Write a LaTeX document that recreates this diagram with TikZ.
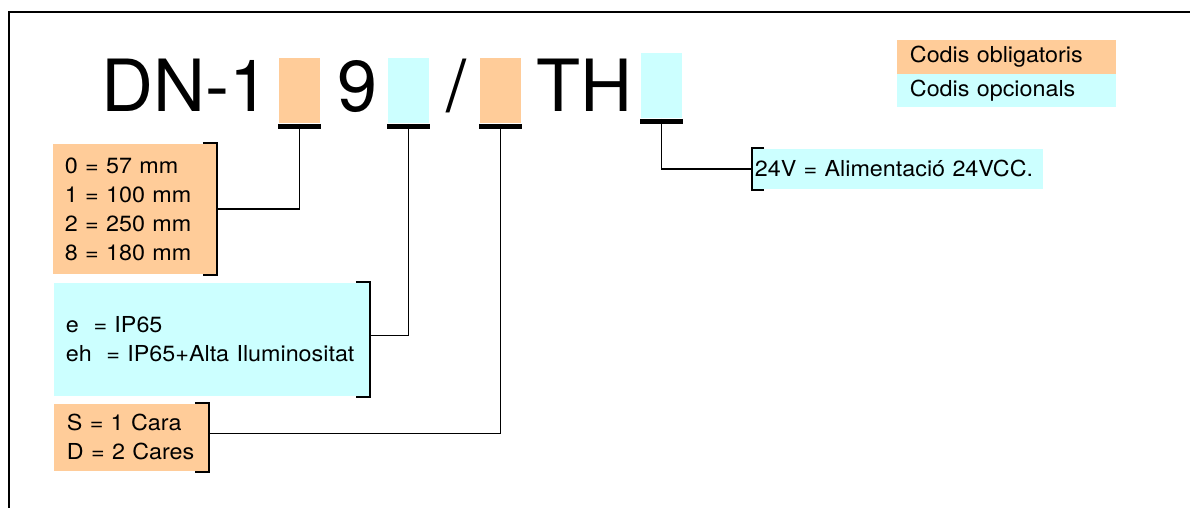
\documentclass[tikz,border=0pt]{standalone}
\usepackage{fontspec}
\setmainfont{TeX Gyre Heros}
\newfontfamily\boxfont{TeX Gyre Heros}[FakeStretch=1.06]
\definecolor{oblig}{HTML}{FFCC99}
\definecolor{opcio}{HTML}{CCFFFF}

\begin{document}
\begin{tikzpicture}[x=1pt, y=-1pt, line width=1.8pt,
        big/.style = {font=\fontsize{72}{72}\selectfont, inner sep=0pt, anchor=base west},
        slot/.style = {minimum width=41pt, minimum height=65pt, inner sep=0pt, anchor=north west},
        bar/.style = {line width=5pt},
        box/.style = {anchor=north west, inner ysep=0pt, align=left, font=\boxfont\fontsize{22}{29}\selectfont}]
        \useasboundingbox (0,0) rectangle (1190,508);
        \draw (9,508) -- (9,12) -- (1190,12);

        \node[big] (t1) at (101,112) {DN-1};
        \node[big] (t2) at (337,112) {9};
        \node[big] (t3) at (446,112) {/};
        \node[big] (t4) at (536,112) {TH};

        \node[slot, fill=oblig] (s1) at (278,57) {};
        \node[slot, fill=opcio] (s2) at (387,57) {};
        \node[slot, fill=oblig] (s3) at (479,57) {};
        \node[slot, fill=opcio] (s4) at (640,52) {};

        \foreach \s in {s1,s2,s3,s4}
            \draw[bar] ([yshift=-2.5pt]\s.south west) -- ([yshift=-2.5pt]\s.south east);

        \node[box, fill=oblig, inner xsep=12pt, text width=139pt, minimum height=130pt] (b1) at (52,143)
            {0 = 57 mm\\1 = 100 mm\\2 = 250 mm\\8 = 180 mm};
        \node[box, fill=opcio, inner xsep=12pt, text width=291pt, minimum height=113pt] (b2) at (53,282)
            {e\ \ = IP65\\eh\ \ = IP65+Alta Iluminositat};
        \node[box, fill=oblig, inner xsep=13pt, text width=128pt, minimum height=67pt] (b3) at (53,403)
            {S = 1 Cara\\D = 2 Cares};
        \node[box, fill=opcio, inner xsep=2pt, text width=286pt, minimum height=40pt] (b4) at (752,148)
            {24V = Alimentació 24VCC.};

        % brackets
        \draw ([xshift=-14pt]b1.north east) -| (b1.south east) -- ++(-14,0);
        \draw ([xshift=-14pt]b2.north east) -| (b2.south east) -- ++(-14,0);
        \draw ([xshift=-14pt]b3.north east) -| (b3.south east) -- ++(-14,0);
        \draw ([xshift=12pt]b4.north west) -| (b4.south west) -- ++(12,0);

        \draw (s1.south) |- (b1.east);
        \draw (s2.south) |- ([yshift=4pt]b2.east);
        \draw (s3.south) |- ([yshift=4pt]b3.east);
        \draw (s4.south) |- (b4.west);

        \node[box, fill=oblig, inner xsep=13pt, text width=193pt, minimum height=34pt] (l1) at (896,39)
            {Codis obligatoris};
        \node[box, fill=opcio, inner xsep=13pt, text width=193pt, minimum height=33pt] (l2) at (896,73)
            {Codis opcionals};
\end{tikzpicture}
\end{document}
